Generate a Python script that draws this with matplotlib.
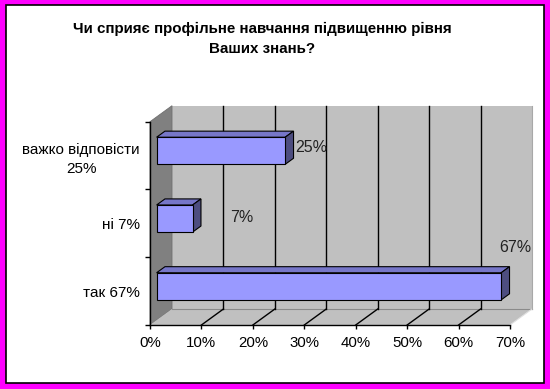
import matplotlib
matplotlib.use('Agg')
import matplotlib.pyplot as plt
from matplotlib.patches import Polygon, Rectangle

# ---- data ----
categories = ['так 67%', 'ні 7%', 'важко відповісти\n25%']
values = [67, 7, 25]
value_labels = ['67%', '7%', '25%']
x_ticks = [0, 10, 20, 30, 40, 50, 60, 70]
x_tick_labels = ['0%', '10%', '20%', '30%', '40%', '50%', '60%', '70%']
title = 'Чи сприяє профільне навчання підвищенню рівня\nВаших знань?'

plt.rcParams['font.family'] = ['Liberation Sans', 'DejaVu Sans']

W, H = 550, 389
fig = plt.figure(figsize=(W / 100, H / 100), dpi=100)
fig.patch.set_facecolor('#FF00FF')
fig.add_artist(Rectangle((5.5 / W, 6 / H), 538 / W, 378 / H, transform=fig.transFigure,
                         facecolor='white', edgecolor='black', lw=1.2, zorder=-10))

fig.text(262 / W, 1 - 22 / H, title, ha='center', va='top', fontsize=10.9,
         fontweight='bold', linespacing=1.5)

ax = fig.add_axes([150 / W, 64 / H, 360 / W, 203.3 / H])
ax.set_xlim(0, 70)
ax.set_ylim(0, 3)
ax.patch.set_visible(False)

# depth of the 3D box, in pixels -> data units
p = ax.transData.transform([(0, 0), (1, 1)])
sx, sy = p[1][0] - p[0][0], p[1][1] - p[0][1]
DX, DY = 22 / sx, 16 / sy
xmax, ymax = 70, 3

# walls and floor
ax.add_patch(Rectangle((DX, DY), xmax, ymax, facecolor='#C0C0C0', edgecolor='none',
                       zorder=0, clip_on=False))
ax.add_patch(Polygon([(0, 0), (DX, DY), (DX, ymax + DY), (0, ymax)], closed=True,
                     facecolor='#808080', edgecolor='#707070', lw=0.6, zorder=0.5, clip_on=False))
ax.add_patch(Polygon([(0, 0), (xmax, 0), (xmax + DX, DY), (DX, DY)], closed=True,
                     facecolor='#C0C0C0', edgecolor='none', zorder=0.5, clip_on=False))
ax.plot([DX, xmax + DX], [DY, DY], color='#8a8a8a', lw=0.8, zorder=0.6, clip_on=False)
ax.plot([xmax, xmax + DX], [0, DY], color='#e0e0e0', lw=0.8, zorder=0.6, clip_on=False)
ax.plot([xmax + DX, xmax + DX], [DY, ymax + DY], color='#a8a8a8', lw=0.8, zorder=0.6, clip_on=False)

for t in x_ticks[1:-1]:
    ax.plot([t + DX, t + DX], [DY, ymax + DY], color='black', lw=1, zorder=1, clip_on=False)
    ax.plot([t, t + DX], [0, DY], color='black', lw=1, zorder=1, clip_on=False)

# 3D bars
f0, f1 = 0.30, 0.68
bh = 0.4
for i, v in enumerate(values):
    y0 = i + 0.5 - bh / 2
    y1 = i + 0.5 + bh / 2
    ax.add_patch(Polygon([(f0 * DX, y1 + f0 * DY), (v + f0 * DX, y1 + f0 * DY),
                          (v + f1 * DX, y1 + f1 * DY), (f1 * DX, y1 + f1 * DY)], closed=True,
                         facecolor='#7676C8', edgecolor='black', lw=0.8, zorder=2, clip_on=False))
    ax.add_patch(Polygon([(v + f0 * DX, y0 + f0 * DY), (v + f0 * DX, y1 + f0 * DY),
                          (v + f1 * DX, y1 + f1 * DY), (v + f1 * DX, y0 + f1 * DY)], closed=True,
                         facecolor='#4D4D80', edgecolor='black', lw=0.8, zorder=2, clip_on=False))
    ax.add_patch(Rectangle((f0 * DX, y0 + f0 * DY), v, bh, facecolor='#9999FF',
                           edgecolor='black', lw=0.8, zorder=2.1, clip_on=False))

# value labels (Excel-style placement)
label_pos = [(68.0, 1.14), (15.5, 1.59), (28.2, 2.62)]
for (lx, ly), s in zip(label_pos, value_labels):
    ax.text(lx, ly, s, ha='left', va='center', fontsize=11.5, color='#222222',
            zorder=3, clip_on=False)

# axes
for s in ['top', 'right']:
    ax.spines[s].set_visible(False)
for s in ['left', 'bottom']:
    ax.spines[s].set_color('black')
    ax.spines[s].set_linewidth(1)
    ax.spines[s].set_zorder(3)

ax.set_xticks(x_ticks)
ax.set_xticklabels(x_tick_labels)
ax.tick_params(axis='x', direction='out', length=3, width=1, pad=5, labelsize=10.8,
               colors='black')

ax.set_yticks([0, 1, 2, 3])
ax.set_yticklabels([])
ax.set_yticks([0.5, 1.5, 2.5], minor=True)
ax.set_yticklabels(categories, minor=True)
ax.tick_params(axis='y', which='major', direction='out', length=3.6, width=1)
ax.tick_params(axis='y', which='minor', length=0, pad=7.2, labelsize=11)
for lab in ax.get_yticklabels(minor=True):
    lab.set_multialignment('center')
    lab.set_linespacing(1.45)

fig.savefig('out.png', dpi=100, facecolor=fig.get_facecolor())
